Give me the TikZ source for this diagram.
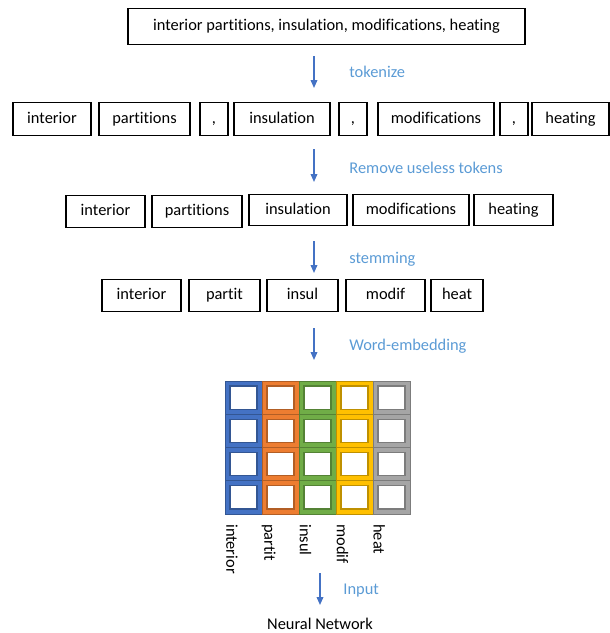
\documentclass[tikz,border=0pt]{standalone}
\usepackage{fontspec}
\setmainfont{Carlito}[Ligatures=NoCommon]
\usetikzlibrary{arrows.meta,positioning}

\definecolor{arrowblue}{HTML}{4472C4}
\definecolor{labblue}{HTML}{5B9BD5}
\definecolor{cblue}{HTML}{4472C4}
\definecolor{corange}{HTML}{ED7D31}
\definecolor{cgreen}{HTML}{70AD47}
\definecolor{cyellow}{HTML}{FFC000}
\definecolor{cgray}{HTML}{A5A5A5}

\tikzset{
  txt/.style={font=\fontsize{12.3pt}{14pt}\selectfont},
  word/.style={draw,txt,line width=0.8pt,minimum height=24.5pt,inner sep=0pt,text height=8.8pt,text depth=2.7pt},
  wd/.style={minimum width=#1*0.75pt},
  flow/.style={-{Triangle[width=5pt,length=6pt]},draw=arrowblue,line width=1.1pt},
  lab/.style={txt,anchor=west,inner sep=0pt,xshift=26pt,text=labblue},
  vec/.style={txt,rotate=-90,anchor=west,inner sep=0pt},
}

\begin{document}
\begin{tikzpicture}[x=0.75pt,y=-0.75pt]
   \useasboundingbox (0,0) rectangle (610,633);
   % sentence
   \node[word,wd=397,minimum height=27.5pt] (sent) at (326.5,26.5) {interior partitions, insulation, modifications, heating};
   % tokens
   \node[word,wd=78]  (t_interior) at (52,119)    {interior};
   \node[word,wd=91]  (t_partitions) at (144.5,119) {partitions};
   \node[word,wd=28]  (t_c1) at (214,119)        {,};
   \node[word,wd=96]  (t_insulation) at (282,119) {insulation};
   \node[word,wd=28]  (t_c2) at (353,119)        {,};
   \node[word,wd=116] (t_modifications) at (436,119) {modifications};
   \node[word,wd=28]  (t_c3) at (514,119)        {,};
   \node[word,wd=77]  (t_heating) at (570.5,119) {heating};
   % useful tokens
   \node[word,wd=79,minimum height=23.5pt]  (u_interior) at (105.5,211.5) {interior};
   \node[word,wd=90,minimum height=23.5pt]  (u_partitions) at (197,211.5) {partitions};
   \node[word,wd=98,minimum height=23.5pt]  (u_insulation) at (298,210) {insulation};
   \node[word,wd=116,minimum height=23.5pt] (u_modifications) at (411,210) {modifications};
   \node[word,wd=79,minimum height=23.5pt]  (u_heating) at (513.5,210) {heating};
   % stems
   \node[word,wd=79] (s_interior) at (141.5,295.5) {interior};
   \node[word,wd=71] (s_partit) at (224.5,295.5) {partit};
   \node[word,wd=71] (s_insul) at (302.5,295.5) {insul};
   \node[word,wd=79] (s_modif) at (385.5,295.5) {modif};
   \node[word,wd=52] (s_heat) at (457,295.5) {heat};
   % embedding matrix
   \foreach \c/\col [count=\i from 0] in {interior/cblue,partit/corange,insul/cgreen,modif/cyellow,heat/cgray} {
     \foreach \j in {0,...,3} {
       \pgfmathsetmacro{\xa}{225+37*\i}
       \pgfmathsetmacro{\ya}{381+33.25*\j}
       \fill[\col,draw=\col!75!black,line width=0.5pt] (\xa,\ya) rectangle ++(37,33.25);
       \fill[white,draw=\col!75!black,line width=0.8pt] (\xa+5,\ya+5) rectangle ++(27,23.25);
     }
     \node[vec] (e_\c) at (232+36.8*\i,524) {\c};
   }
   \node[txt] (nn) at (320,624) {Neural Network};
   % steps
   \coordinate (a1s) at (314,56);  \coordinate (a1e) at (314,88);
   \coordinate (a2s) at (314,149); \coordinate (a2e) at (314,182);
   \coordinate (a3s) at (314,241); \coordinate (a3e) at (314,273);
   \coordinate (a4s) at (314,328); \coordinate (a4e) at (314,360);
   \coordinate (a5s) at (320,573); \coordinate (a5e) at (320,605);
   \path
    (a1s) edge[flow] node[lab] {tokenize} (a1e)
    (a2s) edge[flow] node[lab,yshift=-2pt] {Remove useless tokens} (a2e)
    (a3s) edge[flow] node[lab,yshift=-1.5pt] {stemming} (a3e)
    (a4s) edge[flow] node[lab,yshift=-1.5pt] {Word-embedding} (a4e)
    (a5s) edge[flow] node[lab,xshift=-9pt,yshift=-1.5pt] {Input} (a5e);
\end{tikzpicture}
\end{document}
